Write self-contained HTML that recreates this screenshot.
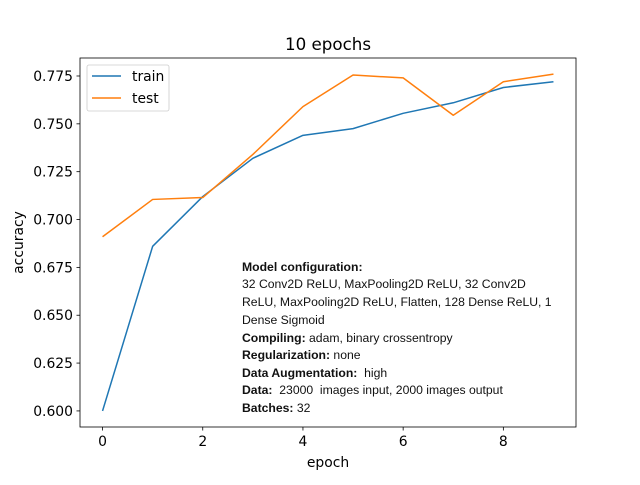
<!DOCTYPE html>
<html><head><meta charset="utf-8"><style>
body{margin:0;background:#fff}
svg text{font-family:"DejaVu Sans","Liberation Sans",sans-serif}
svg text.ann{font-family:"Liberation Sans",sans-serif;white-space:pre}
</style></head><body>
<svg width="640" height="480" xmlns="http://www.w3.org/2000/svg">
<rect width="640" height="480" fill="#fff"/>
<g id="plot"></g>
</svg>
<script>
const epochs=[0,1,2,3,4,5,6,7,8,9];
const trainAcc=[0.600,0.686,0.712,0.732,0.744,0.7475,0.7555,0.761,0.769,0.772];
const testAcc=[0.691,0.7105,0.7115,0.734,0.759,0.7755,0.774,0.7545,0.772,0.776];
const xTicks=[0,2,4,6,8];
const yTicks=[0.600,0.625,0.650,0.675,0.700,0.725,0.750,0.775];
const L=80,R=576,T=58,B=427;
const x0=-0.45,x1=9.45,y0=0.5916,y1=0.7844;
const sx=v=>L+(v-x0)/(x1-x0)*(R-L);
const sy=v=>B-(v-y0)/(y1-y0)*(B-T);
const NS="http://www.w3.org/2000/svg";
const g=document.getElementById('plot');
function mk(tag,attrs,txt){const e=document.createElementNS(NS,tag);for(const k in attrs)e.setAttribute(k,attrs[k]);if(txt!==undefined)e.textContent=txt;g.appendChild(e);return e;}
xTicks.forEach(v=>{
  const t=mk('line',{x1:sx(v),x2:sx(v),y1:B,y2:B+3.5,stroke:'#000','stroke-width':0.8});
  
  
  const l=mk('text',{x:sx(v),y:B+19,'font-size':13.9,'text-anchor':'middle'},String(v));
  
  
});
yTicks.forEach(v=>{
  const t=mk('line',{x1:L-3.5,x2:L,y1:sy(v),y2:sy(v),stroke:'#000','stroke-width':0.8});
  
  
  const l=mk('text',{x:L-7,y:sy(v)+5,'font-size':13.9,'text-anchor':'end'},v.toFixed(3));
  
  
});
function series(arr,color,name){
  const p=mk('polyline',{points:epochs.map((e,i)=>sx(e)+','+sy(arr[i])).join(' '),fill:'none',stroke:color,'stroke-width':1.5,'stroke-linejoin':'round'});
  
  
}
series(trainAcc,'#1f77b4','train-line');
series(testAcc,'#ff7f0e','test-line');
const fr=mk('rect',{x:L,y:T,width:R-L,height:B-T,fill:'none',stroke:'#000','stroke-width':0.8});


const ti=mk('text',{x:(L+R)/2,y:50,'font-size':16.7,'text-anchor':'middle'},'10 epochs');


const xt=mk('text',{x:(L+R)/2,y:467,'font-size':13.9,'text-anchor':'middle'},'epoch');


const yt=mk('text',{x:0,y:0,'font-size':13.9,'text-anchor':'middle',transform:'translate(23,'+((T+B)/2)+') rotate(-90)'},'accuracy');


const lg=mk('rect',{x:87,y:65,width:82,height:46,rx:2,fill:'#fff','fill-opacity':0.8,stroke:'#ccc','stroke-width':0.8});


[['train','#1f77b4',76],['test','#ff7f0e',98]].forEach(([n,c,y])=>{
  const ln=mk('line',{x1:92,x2:121,y1:y,y2:y,stroke:c,'stroke-width':1.5});
  
  
  const tx=mk('text',{x:132,y:y+5,'font-size':13.9},n);
  
  
});
const lines=[
 [['Model configuration:',1]],
 [['32 Conv2D ReLU, MaxPooling2D ReLU, 32 Conv2D',0]],
 [['ReLU, MaxPooling2D ReLU, Flatten, 128 Dense ReLU, 1',0]],
 [['Dense Sigmoid',0]],
 [['Compiling:',1],[' adam, binary crossentropy',0]],
 [['Regularization:',1],[' none',0]],
 [['Data Augmentation:',1],['  high',0]],
 [['Data:',1],['  23000  images input, 2000 images output',0]],
 [['Batches:',1],[' 32',0]]
];
const ys=[271,288,306,324,342,359,377,394,412];
lines.forEach((parts,i)=>{
  const t=mk('text',{x:242,y:ys[i],'font-size':12.2,'class':'ann',fill:'#111'});
  
  
  parts.forEach(([s,b])=>{const sp=document.createElementNS(NS,'tspan');sp.textContent=s;if(b)sp.setAttribute('font-weight','bold');t.appendChild(sp);});
});
</script>
</body></html>
